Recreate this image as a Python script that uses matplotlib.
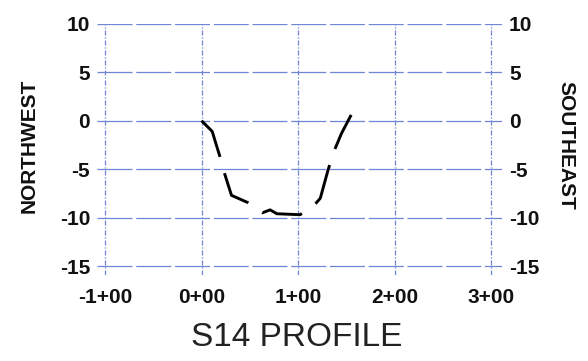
import matplotlib.pyplot as plt

# Station (hundreds of feet) and elevation along the S14 profile
station = [0.00, 0.11, 0.19, 0.24, 0.31, 0.48, 0.63, 0.71, 0.78, 1.02,
           1.16, 1.23, 1.31, 1.37, 1.45, 1.55]
elevation = [0.0, -1.1, -3.7, -5.5, -7.7, -8.45, -9.5, -9.2, -9.6, -9.7,
             -8.8, -8.0, -5.1, -3.2, -1.3, 0.6]

x_ticks = [-1, 0, 1, 2, 3]
x_labels = ['-1+00', '0+00', '1+00', '2+00', '3+00']
y_ticks = [-15, -10, -5, 0, 5, 10]

grid_color = '#6f86d6'
plt.rcParams['font.family'] = ['Liberation Sans', 'DejaVu Sans']
plt.rcParams['axes.unicode_minus'] = False

fig = plt.figure(figsize=(5.88, 3.61), dpi=100)
ax = fig.add_axes([0.165, 0.238, 0.689, 0.696])

ax.plot(station, elevation, color='black', lw=2.1,
        dashes=(14.3, 5.8), dash_capstyle='butt', solid_joinstyle='round')

ax.set_xlim(-1.083, 3.114)
ax.set_ylim(-15.93, 10.0)
ax.set_xticks(x_ticks, x_labels)
ax.set_yticks(y_ticks)

ax.yaxis.grid(True, color=grid_color, lw=0.9, dashes=(28, 3))
ax.xaxis.grid(True, color=grid_color, lw=0.9, dashes=(4, 1.5, 1, 1.5))
ax.set_axisbelow(True)

for s in ax.spines.values():
    s.set_visible(False)

ax.tick_params(axis='both', length=0, labelsize=15, colors='#111111')
ax.tick_params(axis='y', labelright=True, pad=5)
ax.tick_params(axis='x', pad=9)
for t in ax.xaxis.get_major_ticks() + ax.yaxis.get_major_ticks():
    t.label1.set_fontweight('bold')
    t.label2.set_fontweight('bold')

fig.text(0.049, 0.596, 'NORTHWEST', rotation=90, ha='center', va='center',
         fontsize=15, fontweight='bold', color='#111111')
fig.text(0.962, 0.598, 'SOUTHEAST', rotation=-90, ha='center', va='center',
         fontsize=15, fontweight='bold', color='#111111')
fig.text(0.505, 0.066, 'S14 PROFILE', ha='center', va='center',
         fontsize=24, color='#222222')

fig.savefig('out.png', dpi=100)
